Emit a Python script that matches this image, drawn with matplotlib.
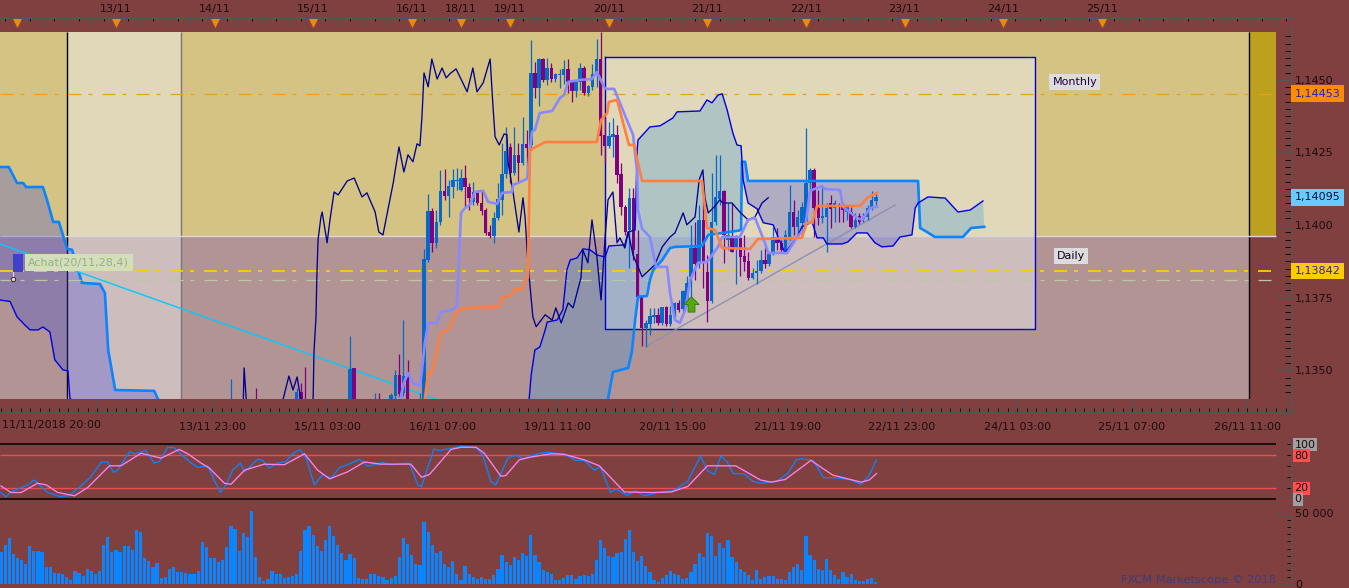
import matplotlib
matplotlib.use('Agg')
import matplotlib.pyplot as plt
import numpy as np
from matplotlib.path import Path

# prices are kept as pips above 1.1300
BASE = 1.13

day_bars = [28, 52, 76, 100, 112, 124, 148, 172, 196, 220, 244, 268]
day_labels = ['13/11', '14/11', '15/11', '16/11', '18/11', '19/11', '20/11', '21/11', '22/11', '23/11', '24/11', '25/11']
time_bars = [51.4, 79.4, 107.4, 135.4, 163.4, 191.4, 219.4, 247.4, 275.4, 303.4]
time_labels = ['13/11 23:00', '15/11 03:00', '16/11 07:00', '19/11 11:00', '20/11 15:00', '21/11 19:00',
               '22/11 23:00', '24/11 03:00', '25/11 07:00', '26/11 11:00']

candle_bar = [56, 62, 72, 73, 74, 85, 86, 91, 92, 95, 96, 97, 98, 99] + list(range(102, 214))
candle_high = [47, 43.9, 44, 45.6, 51.2, 61.8, 50.8, 42.2, 42.2, 42.2, 50, 55.6, 67.3, 53.6,
               42.2, 91.8, 110.7, 105.9, 105.2, 119, 119.3, 115.6, 119.3, 119.7, 119.3, 120.7, 114.5, 114.9, 112.1, 111.8,
               105.9, 100.1, 104.6, 114.5, 128.3, 133.8, 128.3, 133.8, 128.3, 137.3, 132.8, 163.8, 156.2, 157.6, 157.6, 157.6,
               155.9, 152.4, 153.8, 156.9, 157.2, 150, 150, 155.9, 154.8, 148.3, 155.5, 164.1, 166.5, 136.9, 135.6, 136.9,
               134.5, 121.4, 106.9, 112.8, 112.8, 98.3, 75.9, 67.3, 71.5, 71.5, 71.5, 71.8, 72.2, 72.2, 73.5, 74.2,
               77.7, 82.5, 100.1, 101.1, 106.9, 108.7, 89.7, 118, 124.2, 124.2, 112.1, 107.6, 107.6, 96.6, 95.6, 96.6,
               90.8, 85.3, 88, 91.5, 92.1, 90, 99.4, 99, 94.9, 98.3, 113.8, 108.7, 105.2, 108, 133.4, 119.7,
               119.7, 112.1, 113.1, 107.6, 110.4, 108.7, 107.6, 107.6, 106.9, 106.3, 104.2, 104.2, 104.2, 106.9, 111.8, 111.4]
candle_low = [33, 34, 35, 34, 33, 34, 34, 34, 34, 35, 40.1, 40.8, 41.2, 34,
              34, 34, 87.3, 90.8, 92.1, 100.1, 108.7, 102.8, 109.4, 112.1, 111.8, 106.3, 105.2, 107, 107, 103.5,
              96.6, 95.6, 93.9, 101.8, 103.5, 116.2, 114.5, 117.3, 114.5, 120.7, 119, 125.9, 143.8, 141, 149.3, 148.3,
              149.3, 149.3, 147.2, 148.6, 145.5, 142.4, 144.1, 146.6, 144.8, 144.5, 146.6, 147.6, 124.2, 121.8, 126.6, 123.5,
              114.5, 103.5, 96.6, 85.3, 88, 74.2, 58.4, 58, 62.2, 66.3, 65.6, 65.6, 65.3, 65.3, 68, 70,
              70.4, 72.5, 74.2, 81.1, 85.3, 78.4, 66.6, 73.2, 100.1, 107, 87, 91.5, 90.8, 79.7, 82.5, 84.2,
              81.1, 81.5, 79.7, 83.6, 85.3, 85.9, 89.7, 91.5, 90.8, 90.8, 94.9, 96.6, 96.6, 96.6, 100.1, 112.1,
              95.9, 100.1, 100.8, 90.8, 99, 101.1, 101.1, 101.1, 101.8, 99, 99, 100.4, 101.1, 101.8, 105.2, 107]
candle_open = [36, 38, 37, 42.5, 39, 36, 50.8, 36, 39, 37, 41.2, 48.4, 42.2, 47.7,
               36, 36, 88, 104.9, 93.9, 101.1, 111.8, 110.1, 113.1, 115.2, 112.1, 116.2, 113.1, 108, 111.1, 107.6,
               105.2, 97.6, 96.3, 102.5, 108.7, 117.6, 126.9, 118, 124.2, 121.4, 127.9, 127.6, 152.4, 147.2, 157.2, 150,
               154.1, 150.3, 151.7, 151.7, 153.8, 149.3, 146.2, 149.3, 154.1, 145.5, 147.6, 152.1, 157.2, 131.1, 127.3, 130.4,
               131.1, 117.6, 106.3, 98.3, 109.4, 90, 75.3, 64.6, 66, 68.4, 69.1, 66.3, 71.8, 66, 68.7, 73.2,
               71.1, 73.5, 82.2, 92.1, 86.6, 101.8, 83.9, 73.9, 101.1, 109, 111.8, 94.9, 95.9, 92.1, 95.6, 89.4,
               87.7, 81.8, 83.6, 84.2, 88, 86.6, 90.4, 95.9, 93.9, 91.5, 95.9, 104.5, 99.4, 100.8, 100.8, 114.5,
               119, 105.9, 102.5, 102.8, 107.6, 105.9, 106.6, 106.3, 104.5, 104.5, 99.4, 103.2, 102.1, 102.8, 106.3, 108.3]
candle_close = [39, 36, 42.5, 36, 36, 50.5, 36, 39, 36, 41.5, 48.4, 41.9, 48, 36,
                39, 88.3, 104.9, 93.9, 101.1, 111.8, 110.1, 113.5, 115.6, 115.6, 116.2, 113.1, 109.4, 111.4, 107.6, 104.9,
                97.3, 96.3, 102.5, 109, 117.6, 125.6, 118, 124.2, 121.4, 127.9, 126.6, 152.4, 147.2, 157.2, 150, 154.1,
                150.3, 152.1, 152.1, 153.8, 149.3, 146.2, 149.3, 154.1, 145.5, 147.9, 152.1, 157.2, 130.7, 127.3, 130.7, 131.4,
                117.3, 106.3, 97.6, 109.4, 91.5, 75.3, 64.6, 66.3, 68.7, 69.1, 66.3, 71.8, 66, 69.1, 73.2, 70.8,
                77.3, 80, 92.1, 86.6, 101.8, 87.3, 73.9, 101.1, 109.7, 111.8, 96.6, 96.6, 90.8, 95.6, 89, 87.3,
                81.8, 83.6, 84.2, 88, 86.6, 90, 95.9, 93.9, 91.5, 96.6, 104.5, 99.4, 102.8, 106.3, 114.5, 119,
                105.9, 102.5, 103.2, 105.9, 105.6, 107.6, 106.3, 105.2, 106.3, 99.4, 101.8, 101.1, 102.8, 105.9, 108.7, 109.7]

# ichimoku lines, (bar, pips) read at the corners of each line
cloud_left_a_bar = [-0.3, 1.9, 3.9, 5.4, 6.1, 10.2, 11.2, 12.7, 14.1, 16.1, 17.3, 19.7, 24.1, 25.3, 26.1, 27.8, 37.3, 38.2, 45]
cloud_left_a = [120, 120, 114.5, 114.5, 113.1, 113.1, 108.7, 101.1, 101.1, 91.8, 91.5, 80.1, 79.7, 76.6, 57, 43.2, 42.9, 40.1, 30]
cloud_left_b_bar = [-0.3, 2.2, 3.9, 5.8, 7.1, 9, 10.2, 11.9, 13.1, 15.1, 16.3, 16.8, 45]
cloud_left_b = [74.2, 73.7, 68.4, 65.6, 63.9, 63.9, 64.9, 63.2, 53.6, 50.1, 49.8, 40.1, 30]

span_a_bar = [128.6, 145.9, 147.8, 149, 152.7, 153.6, 154.4, 155.1, 157.3, 158, 158.8, 161, 162.9, 164.1, 170.7, 172.2, 179.2,
              180.2, 180.4, 181.2, 181.9, 223.3, 223.8, 225.5, 227.4, 234.2, 236.2, 239.4]
span_a = [29, 33, 40.1, 49.4, 50.8, 56.3, 67.3, 75.3, 75.6, 81.1, 84.5, 88, 92.1, 92.5, 92.8, 96.6, 98,
          98.3, 121.8, 121.8, 115.2, 115.2, 99, 97.6, 95.9, 95.9, 99, 99.4]
span_b_bar = [128.6, 129.1, 130, 131.2, 132.5, 133, 135.4, 136.8, 137.8, 138.6, 140.3, 141.7, 143.4, 145.1, 147.1, 148, 151.9, 152.7,
              154.4, 154.9, 155.1, 158, 160.5, 163.6, 164.6, 170.2, 171.9, 173.1, 174.6, 175.6, 176.8, 178.2, 179.2, 180.2, 180.7,
              181.9, 184.1, 185.6, 188, 189.7, 190.9, 193.9, 195, 197.5, 198.7, 200.2, 201.1, 204.8, 206.2, 208.4, 210.9, 212.8,
              214.5, 217.2, 218.9, 221.8, 222.6, 223.3, 225.7, 229.9, 233, 236, 239.1]
span_b = [40.1, 48.4, 57, 58, 63.9, 66.6, 67.3, 70.8, 84.6, 88, 88.7, 91.8, 91.5, 89.7, 89, 92.8, 93.2, 97.6,
          98.3, 125.9, 129.3, 133.8, 134.2, 136.9, 139, 139.3, 143.1, 142.1, 144.8, 145.2, 139.7, 131.7, 127.6, 127.3, 115.6,
          107.6, 105.6, 100.8, 100.1, 94.2, 90.4, 95.9, 99.4, 101.1, 95.6, 95.6, 93.5, 93.5, 94.2, 97.3, 97.3, 93.9,
          92.5, 92.8, 95.9, 96.6, 105.9, 107.6, 109.7, 109.3, 104.5, 105.2, 108.3]

lag_bar = [58.2, 59, 59.2, 59.7, 60.6, 68.7, 68.7, 70.1, 71.1, 72.1, 73, 74, 75.7, 76, 76.2, 76.7, 76.9, 77.2, 77.9, 78.2, 79.4, 80.1,
           81.1, 82.1, 84.3, 86, 87.9, 89.1, 91.1, 92, 93, 95.5, 96.9, 98.1, 99.1, 100.3, 101.3, 102, 102.5, 103, 104, 104.9, 106.2,
           107.4, 108.4, 109.3, 110.8, 113.5, 114.9, 115.9, 117.4, 119.1, 119.8, 120.3, 121.3, 122.5, 123.2, 123.5, 124.7, 126.1,
           127.1, 127.6, 128.3, 129.5, 130.3, 132.5, 134.2, 135.1, 136.4, 138.1, 139.3, 141.2, 141.7, 142.9, 143.9, 145.1, 146.1,
           147.1, 147.8, 149, 150, 150.7, 151.9, 152.7, 153.9, 156.1, 159.2, 161, 162.9, 164.1, 166.1, 167, 169, 170, 170.9, 171.4,
           172.2, 173.9, 175, 175.8, 178, 179.9, 181.9, 183.6, 185.3, 186.8]
lag = [29.4, 40.1, 50.8, 40.1, 29.4, 29.4, 40.1, 48, 43.2, 47.7, 40.1, 29.4, 29.4, 40.1, 56, 68.4, 82.2, 94.9, 102.8, 104.5, 93.9, 101.8,
       111.4, 110.4, 115.2, 116.2, 109.7, 111.1, 104.5, 97.6, 96.6, 114.5, 126.9, 118.3, 124.2, 121.8, 128, 127.3, 137.3, 152.4, 147.6, 157.2, 150.3,
       154.1, 150.7, 152.1, 153.8, 145.9, 154.1, 145.9, 149, 157.2, 140.7, 130.4, 127.6, 131.4, 131.1, 121.4, 111.1, 97.6,
       109.4, 102.8, 87, 68.4, 65, 69.1, 67.3, 71.5, 66.3, 73.2, 71.5, 81.8, 91.4, 87, 101.8, 89, 74.2,
       95.9, 108.7, 111.4, 93.9, 95.6, 92.1, 97.6, 89.7, 82.2, 86.3, 92.5, 95.9, 97.3, 104.2, 100.1, 102.8, 115.6, 119, 109.4,
       104.2, 106.6, 108.7, 107.6, 107.6, 104.5, 101.8, 102.8, 107.6, 109.4]

tenkan_bar = [97.2, 98.1, 99.1, 100.3, 102, 102.5, 103.2, 104, 106.2, 107.1, 109.8, 111, 111.5, 112, 113, 114.2, 115.4, 117.4, 118.6, 120.8,
              122, 124.4, 124.7, 128.1, 128.6, 129.3, 130, 131.2, 134.2, 136.1, 137.1, 138.1, 141, 143.9, 145.1, 147.1, 149.3, 150.2, 151.9,
              153.9, 154.9, 155.1, 156.1, 158, 159.5, 162.2, 162.9, 164.1, 165.3, 166.6, 167.8, 169.7, 171.9, 174.6, 175.6, 179.9, 181.9,
              183.6, 186, 186.8, 191.4, 193.9, 195.8, 197, 199.9, 200.6, 204.3, 205, 208.4, 209.7, 211.6, 213.3]
tenkan = [40.1, 45.6, 49.1, 45.6, 44.6, 50.1, 59.4, 66.3, 66.3, 70.1, 70.8, 72.2, 88, 104.2, 105.9, 107, 111.4, 111.8, 108, 107.3,
          111.1, 111.4, 113.8, 115.9, 123.5, 132.1, 132.8, 138.6, 139.3, 143.8, 144.8, 149.3, 150, 150.3, 152.7, 146.9, 146.9, 143.8, 137.9,
          131.1, 118, 105.2, 98.7, 95.9, 85.6, 85.6, 76.6, 67.3, 66.3, 70.8, 81.1, 87, 87.3, 92.5, 95.9, 95.9, 101.8,
          102.5, 93.9, 90.4, 90.4, 95.9, 99, 111.8, 113.5, 112.4, 112.1, 106.3, 102.5, 101.8, 105.9, 106.3]
kijun_bar = [103.2, 104, 104.9, 107.1, 109.1, 111, 113.5, 121.3, 122, 124.4, 124.9, 126.9, 127.6, 128.3, 128.8, 129.3, 132.5, 145.1, 146.1,
             147.6, 148, 150, 152.9, 154.1, 156.1, 170.7, 171.9, 173.9, 175.6, 182.4, 184.3, 195, 196.2, 197.5, 198.7, 209.2, 210.9, 213.3]
kijun = [40.1, 49.1, 49.1, 62.9, 64.2, 70.4, 71.5, 71.8, 74.9, 76, 77.7, 78, 81.1, 81.8, 125.9, 126.2, 128.6, 128.6, 136.2,
         138.6, 142.4, 143.1, 127.6, 127.6, 115.2, 115.2, 99, 98.3, 92.1, 91.8, 95.2, 95.6, 100.8, 100.8, 106.6, 106.6, 109.4, 111.1]

stoch_k_bar = [0, 1.2, 2.4, 4.9, 6.5, 8.1, 9.7, 11.4, 14.2, 16.6, 19.5, 21.9, 24.4, 26, 27.4, 28.4, 31.3, 32.5, 35.3, 37.3, 38.6, 40.6, 42.2,
               44.6, 46.3, 47.9, 50.3, 51.9, 53.4, 54.8, 56.4, 58.3, 59.3, 62.5, 63.7, 65.3, 67.4, 69.4, 71, 72.8, 74.3, 76.3, 78.3, 80.4,
               82.4, 84.4, 87.3, 89.3, 92.9, 95, 99.4, 101.5, 102.4, 105.4, 106.7, 109.6, 112, 115.7, 117.3, 119.3, 120.5, 123.4, 125.4, 127,
               130.7, 133.1, 137.2, 140, 142, 144.5, 145.9, 148.4, 149.8, 152.4, 154.6, 156.6, 160.7, 163.6, 167.2, 170.3, 172, 173.7, 175.3,
               176.7, 178.3, 181, 183, 184.7, 188.7, 191.6, 193.6, 194.8, 197.7, 200.3, 203.7, 207, 209.4, 211.4, 213.2]
stoch_k = [11, 3, 12, 20, 25, 34, 22, 11, 4, 5, 23, 40, 67, 67, 48, 52, 86, 82, 88, 65, 68, 94, 93,
           76, 65, 57, 60, 34, 11, 25, 52, 65, 49, 72, 70, 56, 65, 68, 82, 90, 74, 25, 44, 37,
           57, 62, 72, 59, 66, 62, 65, 25, 22, 91, 88, 92, 96, 93, 80, 31, 25, 74, 80, 73,
           82, 85, 81, 70, 70, 52, 59, 11, 17, 6, 14, 5, 12, 14, 31, 78, 51, 44, 78,
           68, 46, 45, 32, 28, 31, 46, 71, 73, 70, 38, 38, 34, 26, 43, 71]
stoch_d_bar = [0, 2.4, 4.9, 8.9, 11, 13.8, 17.9, 21.1, 26.4, 29.2, 34.1, 39, 43.4, 45.5, 48.7, 50.7, 54.4, 56, 59.3, 64.1, 69, 73.9, 77.1, 80,
               84.4, 88.5, 92.5, 99.8, 102.4, 104.3, 109.6, 112, 115.7, 117.7, 121.7, 122.9, 126.2, 129, 133.9, 137.2, 142, 145.7, 151.8,
               158.3, 163.2, 167.2, 172, 178.9, 184.9, 187.5, 191, 197.2, 202.5, 209.4, 211.4, 213.2]
stoch_d = [23, 11, 11, 28, 25, 11, 5, 20, 60, 60, 83, 74, 90, 82, 65, 56, 28, 26, 52, 63, 62, 82, 52, 36,
           49, 67, 63, 63, 39, 44, 90, 94, 94, 83, 41, 42, 71, 76, 82, 81, 71, 60, 12,
           11, 12, 22, 60, 60, 34, 30, 35, 70, 43, 30, 34, 46]

volume_k = [22.3, 27.3, 32.2, 21.4, 18.1, 16.7, 13.9, 26.6, 23, 23, 22.3, 11.8, 11.8, 7.5, 7.5, 6.8, 4.7, 2.6, 8.9, 7.5, 5.4, 10.3, 8.9, 6.8, 8.9,
            27.3, 32.9, 22.3, 23.7, 22.3, 26.6, 26.6, 23.7, 37.8, 36.4, 18.1, 16, 11.8, 14.6, 4, 4.7, 10.3, 11.8, 8.2, 8.2, 7.5, 6.8, 6.8, 8.9,
            29.4, 25.9, 18.1, 18.1, 15.3, 16.7, 25.9, 40.7, 38.5, 23, 35.7, 32.9, 51.2, 18.8, 4.7, 1.9, 3.3, 8.9, 6.8, 6.8, 4, 4.7, 5.4, 6.8,
            23, 37.8, 40.7, 34.3, 26.6, 23, 30.8, 40.7, 33.6, 27.3, 21.6, 16.7, 20.9, 18.1, 4, 3.3, 3.3, 6.8, 6.8, 5.4, 4.7, 2.6, 4, 5.4, 18.8,
            32.2, 28, 20.2, 13.9, 13.2, 43.5, 36.4, 27.3, 21.6, 23, 13.9, 11.8,
            16, 6.8, 2.6, 12.5, 6.8, 4.7, 3.3, 4.7, 3.3, 3.3, 6.1, 10.3, 20.2, 15.3, 13.2, 18.8, 16.7, 21.6, 19.5, 34.3, 20.2, 15.3, 9.6, 8.2, 6.8,
            2.6, 2.6, 4, 6.1, 6.1, 3.3, 5.4, 6.1, 5.4, 6.8, 16.7, 30.8, 25.1, 19.5, 18.8, 21.6, 22.3, 31.5, 37.8, 22.3, 16, 19.5, 12.5, 8.2,
            2.6, 1.2, 4, 6.1, 8.9, 6.8, 6.1, 3.3, 4, 8.2, 13.9, 21.6, 18.8, 35.7, 33.6, 19.5, 28.7, 25.1, 30.8, 18.8, 15.3, 10.3, 8.2, 6.1, 2.6,
            9.6, 3.3, 4.7, 5.4, 5.4, 3.3, 3.3, 2.6, 8.2, 11.8, 13.9, 9.6, 33.6, 20.2, 16.7, 10.3, 9.6, 17.4, 9.6, 6.1, 3.3, 8.2, 4.7, 6.8, 2.6,
            1.9, 1.9, 3.3, 4, 1.2]

monthly_pips, daily_pips, entry_pips, last_pips = 145.3, 84.2, 81.1, 109.5
split_pips = 96.3

BG = '#804040'
GOLD = '#D4C383'
PINK = '#B29494'
PALE_GOLD = '#E0D8B8'
PALE_PINK = '#CDBDBD'
DARK_GOLD = '#BDA01E'
TICK = '#555555'
INK = '#1E0A0A'
W, H = 1349, 588
XLIM = (-0.243, 314.1)
RIGHT = 310.5


def price(v):
    return BASE + np.array(v, dtype=float) / 1e4


def area(fig, x0, top, x1, bottom):
    ax = fig.add_axes([x0 / W, 1 - bottom / H, (x1 - x0) / W, (bottom - top) / H])
    ax.set_xlim(XLIM)
    ax.set_facecolor(BG)
    for s in ['left', 'top', 'bottom']:
        ax.spines[s].set_visible(False)
    ax.spines['right'].set_color(TICK)
    ax.tick_params(colors=TICK, labelcolor=INK, labelsize=8)
    return ax


def zone(ax, x0, x1, y0, y1, color, z=1):
    ax.fill_between([x0, x1], price(y0), price(y1), color=color, lw=0, zorder=z)


plt.rcParams['font.family'] = 'DejaVu Sans'
fig = plt.figure(figsize=(W / 100, H / 100), dpi=100, facecolor=BG)

# top date strip
top = area(fig, 0, 18, 1291, 32)
top.set_ylim(0, 1)
top.spines['top'].set_visible(True)
top.spines['top'].set_color(TICK)
top.set_yticks([])
top.set_xticks(day_bars, day_labels)
top.set_xticks(np.arange(1, 314, 3), minor=True)
top.tick_params(axis='x', which='major', top=True, bottom=False, labeltop=True, labelbottom=False, direction='in', length=5, pad=3)
top.tick_params(axis='x', which='minor', top=True, bottom=False, direction='in', length=2.5)
top.vlines(np.arange(4, 314, 6), 0.5, 1, color=TICK, lw=1)
top.scatter([4] + day_bars, [0.62] * 13, marker='v', s=42, color='#E88A0A', lw=0, zorder=3)

# main price panel
ax = area(fig, 0, 32, 1291, 399)
ax.set_ylim(price(40.1), price(166.5))
zone(ax, XLIM[0], 303.9, split_pips, 166.5, GOLD)
zone(ax, XLIM[0], 303.9, 40.1, split_pips, PINK)
zone(ax, 303.9, RIGHT, split_pips, 166.5, DARK_GOLD)
zone(ax, 16.1, 43.8, split_pips, 166.5, PALE_GOLD, 1.1)
zone(ax, 16.1, 43.8, 40.1, split_pips, PALE_PINK, 1.1)
zone(ax, 147.1, 251.8, split_pips, 157.9, PALE_GOLD, 1.1)
zone(ax, 147.1, 251.8, 64.2, split_pips, PALE_PINK, 1.1)
ax.plot([147.1, 251.8, 251.8, 147.1, 147.1], price([157.9, 157.9, 64.2, 64.2, 157.9]), color='#0000D0', lw=1, zorder=4)
ax.vlines(16.1, price(40.1), price(166.5), color='black', lw=1, zorder=2)
ax.vlines(43.8, price(40.1), price(166.5), color='#777777', lw=1, zorder=2)
ax.vlines(303.9, price(40.1), price(166.5), color='black', lw=1, zorder=2)
ax.hlines(price(split_pips), XLIM[0], RIGHT, color='#D8D8D8', lw=1, zorder=2)

# cloud
sa_x, sa_y = np.array(span_a_bar), np.array(span_a)
sb_x, sb_y = np.array(span_b_bar), np.array(span_b)
PURPLE, TEAL = '#4148DC', '#4096DF'
ax.fill(np.r_[cloud_left_a_bar, cloud_left_b_bar[::-1]], price(np.r_[cloud_left_a, cloud_left_b[::-1]]),
        color=PURPLE, alpha=0.3, lw=0, zorder=2)
for lo, hi, col in [(128, 180.6, TEAL), (180.3, 223.4, PURPLE), (223.2, 240, TEAL)]:
    ma = (sa_x >= lo) & (sa_x <= hi)
    mb = (sb_x >= lo) & (sb_x <= hi)
    ax.fill(np.r_[sa_x[ma], sb_x[mb][::-1]], price(np.r_[sa_y[ma], sb_y[mb][::-1]]), color=col, alpha=0.3, lw=0, zorder=2)
ax.plot(cloud_left_a_bar, price(cloud_left_a), color='#0A84FF', lw=1.9, zorder=3)
ax.plot(cloud_left_b_bar, price(cloud_left_b), color='#0000E0', lw=1, zorder=3)

# levels
dash = (0, (13, 7, 4, 10))
for p, c, w in [(monthly_pips, '#E8A020', 0.9), (daily_pips, '#FFCC00', 1.3), (entry_pips, '#B8C8A0', 0.9)]:
    ax.hlines(price(p), XLIM[0], RIGHT, color=c, lw=w, linestyles=[(0, tuple(d * 0.72 / w for d in dash[1]))], zorder=3)

# sloped lines
ax.plot([-0.3, 105.7], price([93.5, 40.1]), color='#00CCFF', lw=1, zorder=3)
ax.plot([157.3, 217.7], price([58.4, 106.9]), color='#9090B0', lw=1, zorder=5)

# candles
c_o, c_c = np.array(candle_open), np.array(candle_close)
colors = np.where(c_c >= c_o, '#0868C8', '#800080')
ax.vlines(candle_bar, price(candle_low), price(candle_high), colors=colors, lw=0.9, zorder=6)
ax.bar(candle_bar, (c_c - c_o) / 1e4, bottom=price(c_o), width=0.85, color=colors, lw=0, antialiased=False, zorder=6)

ax.plot(sa_x, price(sa_y), color='#0A84FF', lw=1.9, zorder=7)
ax.plot(sb_x, price(sb_y), color='#0000E0', lw=1, zorder=7)
ax.plot(lag_bar, price(lag), color='#000090', lw=0.95, zorder=7)
ax.plot(tenkan_bar, price(tenkan), color='#8888FF', lw=1.9, zorder=8)
ax.plot(kijun_bar, price(kijun), color='#FF7F40', lw=1.9, zorder=8)

# buy arrow
arrow = Path([(-1, 0), (0, 1), (1, 0), (0.45, 0), (0.45, -1), (-0.45, -1), (-0.45, 0), (-1, 0)])
ax.scatter([168], price([72.9]), marker=arrow, s=120, color='#58A808', edgecolors='#2A7A10', lw=0.6, zorder=9)

# order label
ax.text(6.6, price(87), 'Achat(20/11,28,4)', color='#98B080', fontsize=8, va='center', zorder=10,
        bbox=dict(boxstyle='square,pad=0.32', fc='#D2DEBC', ec='none'))
ax.fill_between([2.9, 5.4], price(83.9), price(90), color='#4040C8', lw=0, zorder=11)
ax.plot([2.9, 2.9], price([81.5, 83.9]), color='#DDDDDD', lw=0.8, zorder=11)
ax.scatter([2.9], price([81.5]), s=10, facecolor='#DDDDDD', edgecolor='#402020', lw=0.7, zorder=11)

# monthly / daily tags
ax.text(261.5, price(149.4), 'Monthly', fontsize=8, color='#200040', ha='center', va='center', zorder=10,
        bbox=dict(boxstyle='square,pad=0.28', fc='#DCDCDC', ec='none'))
ax.text(260.5, price(89.4), 'Daily', fontsize=8, color='#100020', ha='center', va='center', zorder=10,
        bbox=dict(boxstyle='square,pad=0.28', fc='#DCDCDC', ec='none'))

# price axis
ax.yaxis.tick_right()
ax.set_yticks(price([50, 75, 100, 125, 150]), ['1,1350', '1,1375', '1,1400', '1,1425', '1,1450'])
ax.set_yticks(price(np.arange(42.5, 166, 2.5)), minor=True)
ax.tick_params(axis='y', which='major', direction='in', length=10, pad=3)
ax.tick_params(axis='y', which='minor', direction='in', length=4)
ax.set_xticks([])
for v, txt, bg, fg in [(monthly_pips, '1,14453', '#FF8C00', '#2020E0'), (last_pips, '1,14095', '#66CCFF', '#101030'),
                       (daily_pips, '1,13842', '#FFCC00', '#2020E0')]:
    ax.annotate(txt, xy=(1, price(v)), xycoords=('axes fraction', 'data'), xytext=(2.5, 0), textcoords='offset points',
                fontsize=8, color=fg, va='center', bbox=dict(boxstyle='square,pad=0.3', fc=bg, ec='none'), zorder=12,
                annotation_clip=False)

# bottom time strip
bot = area(fig, 0, 399, 1291, 412)
bot.set_ylim(0, 1)
bot.spines['bottom'].set_visible(True)
bot.spines['bottom'].set_color(TICK)
bot.set_yticks([])
bot.set_xticks([23.4] + time_bars, [''] + time_labels)
bot.set_xticks(np.arange(0.1, 314, 28 / 12), minor=True)
bot.tick_params(axis='x', which='major', direction='in', length=9, pad=7, width=1)
bot.tick_params(axis='x', which='minor', direction='in', length=3)
bot.text(12.4, -0.62, '11/11/2018 20:00', fontsize=8, color=INK, ha='center', va='top',
         transform=bot.get_xaxis_transform(), clip_on=False)

# stochastic panel
st = area(fig, 0, 444, 1291, 498.5)
st.set_ylim(0, 100)
st.hlines([0, 100], XLIM[0], RIGHT, color='black', lw=1.1, clip_on=False, zorder=2)
st.hlines([20, 80], XLIM[0], RIGHT, color='#E85050', lw=1, zorder=2)
st.plot(stoch_k_bar, stoch_k, color='#0A84FF', lw=0.95, zorder=3)
st.plot(stoch_d_bar, stoch_d, color='#FF80F0', lw=0.95, zorder=4)
st.yaxis.tick_right()
st.set_xticks([])
st.set_yticks([0], [''])
st.set_yticks([20, 40, 60, 80, 100], minor=True)
st.tick_params(axis='y', which='major', direction='in', length=10)
st.tick_params(axis='y', which='minor', direction='in', length=3)
for v, bg in [(100, '#A0A0A0'), (80, '#FF5050'), (20, '#FF5050'), (0, '#A0A0A0')]:
    st.annotate(str(v), xy=(1, v), xycoords=('axes fraction', 'data'), xytext=(2.6, -0.5), textcoords='offset points',
                fontsize=8, color=INK, va='center', bbox=dict(boxstyle='square,pad=0.12', fc=bg, ec='none'),
                annotation_clip=False, zorder=5)

# volume panel
vol = area(fig, 0, 505, 1291, 584)
vol.set_ylim(0, 79 / 71 * 50)
vol.bar(np.arange(len(volume_k)), volume_k, width=0.78, color='#0A84FF', lw=0, antialiased=False)
vol.spines['right'].set_bounds(0, 50)
vol.yaxis.tick_right()
vol.set_xticks([])
vol.set_yticks([0, 50], ['0', '50 000'])
vol.set_yticks(np.arange(5, 50, 5), minor=True)
vol.tick_params(axis='y', which='major', direction='in', length=10, pad=3)
vol.tick_params(axis='y', which='minor', direction='in', length=3)

fig.text(1276 / W, 1 - 580 / H, 'FXCM Marketscope © 2018', color='#3D3D7A', fontsize=8.2, ha='right', va='center')

fig.savefig('out.png', dpi=100, facecolor=BG)
